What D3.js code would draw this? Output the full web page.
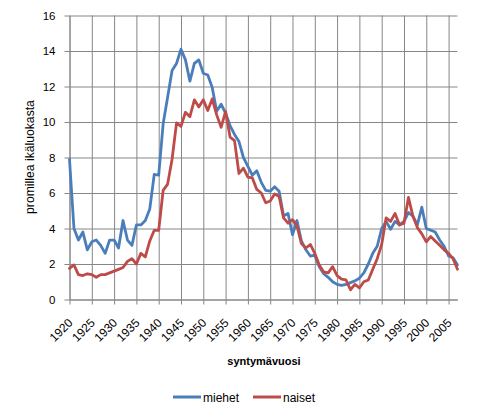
<!DOCTYPE html>
<html>
<head>
<meta charset="utf-8">
<script src="https://cdn.jsdelivr.net/npm/d3@7"></script>
<style>
  body { margin: 0; background: #fff; }
  svg { display: block; font-family: 'Liberation Sans', Arial, sans-serif; }
</style>
</head>
<body>
<svg id="chart" width="485" height="419"></svg>
<script>
// Year range of the category axis (one point per birth year).
var firstYear = 1920;
var lastYear = 2007;
var tickYears = [1920, 1925, 1930, 1935, 1940, 1945, 1950, 1955, 1960, 1965,
  1970, 1975, 1980, 1985, 1990, 1995, 2000, 2005];
var yTicks = [0, 2, 4, 6, 8, 10, 12, 14, 16];

var miehet = [
  7.9, 4.0, 3.35, 3.8, 2.8, 3.25, 3.35, 3.05, 2.6, 3.35,
  3.35, 2.9, 4.45, 3.35, 3.05, 4.2, 4.2, 4.45, 5.1, 7.05,
  7.0, 9.9, 11.4, 12.9, 13.3, 14.1, 13.5, 12.3, 13.3, 13.5,
  12.75, 12.65, 11.95, 10.6, 11.0, 10.5, 9.8, 9.3, 8.9, 8.0,
  7.5, 7.0, 7.25, 6.6, 6.15, 6.1, 6.35, 6.1, 4.7, 4.85,
  3.65, 4.45, 3.3, 2.8, 2.45, 2.5, 1.85, 1.45, 1.25, 1.0,
  0.85, 0.8, 0.85, 0.95, 1.05, 1.2, 1.5, 2.0, 2.6, 3.0,
  4.0, 4.4, 3.95, 4.4, 4.2, 4.4, 4.9, 4.7, 4.2, 5.2,
  4.0, 3.9, 3.8, 3.35, 3.0, 2.45, 2.35, 1.95
];

var naiset = [
  1.75, 1.95, 1.4, 1.35, 1.45, 1.4, 1.25, 1.4, 1.4, 1.5,
  1.6, 1.7, 1.8, 2.15, 2.3, 2.0, 2.6, 2.4, 3.3, 3.9,
  3.9, 6.15, 6.5, 7.9, 9.95, 9.75, 10.55, 10.3, 11.25, 10.85,
  11.25, 10.65, 11.3, 10.4, 9.7, 10.6, 9.15, 8.95, 7.1, 7.4,
  6.9, 6.85, 6.2, 6.0, 5.45, 5.55, 5.95, 5.8, 4.6, 4.3,
  4.5, 4.15, 3.15, 2.9, 3.1, 2.6, 1.95, 1.55, 1.5, 1.85,
  1.35, 1.15, 1.1, 0.55, 0.85, 0.65, 1.0, 1.1, 1.7, 2.3,
  3.1, 4.6, 4.4, 4.85, 4.2, 4.3, 5.75, 4.7, 4.05, 3.7,
  3.25, 3.55, 3.3, 3.05, 2.8, 2.6, 2.3, 1.7
];

var series = [
  {name: 'miehet', values: miehet, color: '#4a7ebb'},
  {name: 'naiset', values: naiset, color: '#be4b48'}
];

(function () {
  'use strict';

  var margin = {top: 15.5, left: 69.5};
  var innerWidth = 388;
  var innerHeight = 284;
  var gridColor = '#868686';

  var svg = d3.select('#chart');
  var chartInner = svg.append('g')
      .attr('transform', 'translate(' + margin.left + ',' + margin.top + ')');

  var x = d3.scaleLinear().domain([firstYear, lastYear]).range([0, innerWidth]);
  var y = d3.scaleLinear().domain([0, 16]).range([innerHeight, 0]);

  // Gridlines.
  chartInner.append('g')
    .attr('class', 'grid y-grid')
    .call(d3.axisLeft(y).tickValues(yTicks).tickSize(-innerWidth).tickSizeOuter(0).tickFormat(''));

  chartInner.append('g')
    .attr('class', 'grid x-grid')
    .attr('transform', 'translate(0,' + innerHeight + ')')
    .call(d3.axisBottom(x).tickValues(tickYears).tickSize(-innerHeight).tickSizeOuter(0).tickFormat(''));

  chartInner.selectAll('.grid .domain').remove();
  chartInner.selectAll('.grid line').attr('stroke', gridColor);

  // Axes.
  var xAxis = chartInner.append('g')
      .attr('class', 'x axis')
      .attr('transform', 'translate(0,' + innerHeight + ')')
      .call(d3.axisBottom(x).tickValues(tickYears).tickSize(5).tickSizeOuter(0).tickFormat(d3.format('d')));

  xAxis.selectAll('text')
    .attr('text-anchor', 'end')
    .attr('x', null)
    .attr('y', null)
    .attr('dy', null)
    .attr('transform', 'translate(3.5,24) rotate(-45)')
    .attr('font-size', 12)
    .attr('fill', '#000');

  var yAxis = chartInner.append('g')
      .attr('class', 'y axis')
      .call(d3.axisLeft(y).tickValues(yTicks).tickSize(5).tickSizeOuter(0).tickPadding(9));

  yAxis.selectAll('text')
    .attr('font-size', 11.5)
    .attr('fill', '#000');

  chartInner.selectAll('.axis .domain, .axis line').attr('stroke', gridColor);
  svg.selectAll('.axis').attr('font-family', null);

  // Data lines.
  var line = d3.line()
      .x(function (d, i) { return x(firstYear + i); })
      .y(function (d) { return y(d); });

  chartInner.append('g')
      .attr('class', 'data')
    .selectAll('path')
    .data(series).enter()
    .append('path')
      .attr('fill', 'none')
      .attr('stroke', function (d) { return d.color; })
      .attr('stroke-width', 2.8)
      .attr('stroke-linejoin', 'round')
      .attr('stroke-linecap', 'round')
      .attr('d', function (d) { return line(d.values); });

  // Axis titles.
  svg.append('text')
    .attr('transform', 'translate(33.5,157) rotate(-90)')
    .attr('text-anchor', 'middle')
    .attr('font-size', 12.2)
    .text('promillea ikäluokasta');

  svg.append('text')
    .attr('x', 264)
    .attr('y', 365)
    .attr('text-anchor', 'middle')
    .attr('font-size', 11)
    .attr('font-weight', 'bold')
    .text('syntymävuosi');

  // Legend.
  var legendX = [173, 253];
  var legend = svg.append('g')
      .attr('class', 'legend')
    .selectAll('g')
    .data(series).enter()
    .append('g')
      .attr('transform', function (d, i) { return 'translate(' + legendX[i] + ',397)'; });

  legend.append('line')
    .attr('x1', 0)
    .attr('x2', 28)
    .attr('stroke', function (d) { return d.color; })
    .attr('stroke-width', 3);

  legend.append('text')
    .attr('x', 30)
    .attr('y', 4.5)
    .attr('font-size', 12)
    .text(function (d) { return d.name; });
}());
</script>
</body>
</html>
